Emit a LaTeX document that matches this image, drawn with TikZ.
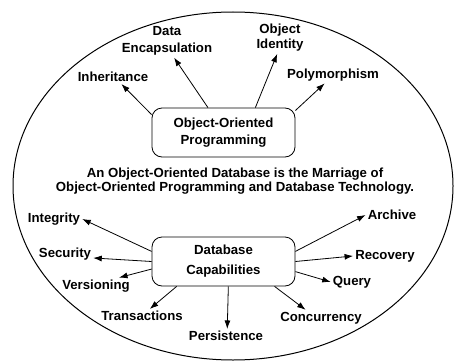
\documentclass[tikz,border=0pt]{standalone}
\usepackage{fontspec}
\setmainfont{Liberation Sans}
\usetikzlibrary{arrows.meta}

\begin{document}
\begin{tikzpicture}[x=1pt,y=-1pt,
  lbl/.style={font=\fontsize{13.2}{15}\selectfont\bfseries, align=center, inner sep=2pt},
  capbox/.style={draw=black, line width=0.8pt, rounded corners=10pt, minimum width=143pt, minimum height=49pt, font=\fontsize{13.2}{15}\selectfont\bfseries, align=center},
  arr/.style={-{Latex[length=8.5pt,width=6pt]}, line width=0.8pt}]
\useasboundingbox (0,0) rectangle (454,361);
\draw[line width=1pt] (233,186) ellipse [x radius=220, y radius=174];

\node[capbox] (oop) at (223.5,132.5) {Object-Oriented\\[2pt]Programming};
\node[lbl] (inh) at (113,77) {Inheritance};
\node[lbl] (denc) at (167,41) {Data\\[2pt]Encapsulation};
\node[lbl] (oid) at (280,38) {Object\\Identity};
\node[lbl] (poly) at (333,75) {Polymorphism};

\node[lbl, font=\fontsize{13.2}{14.5}\selectfont\bfseries] (stmt) at (235,181) {An Object-Oriented Database is the Marriage of\\Object-Oriented Programming and Database Technology.};

\node[capbox] (db) at (223.5,261.5) {Database\\[5pt]Capabilities};
\node[lbl] (integ) at (54,219) {Integrity};
\node[lbl] (secu) at (65,254) {Security};
\node[lbl] (vers) at (96,286) {Versioning};
\node[lbl] (trans) at (142,316) {Transactions};
\node[lbl] (pers) at (226,336) {Persistence};
\node[lbl] (conc) at (321,318) {Concurrency};
\node[lbl] (query) at (352,282) {Query};
\node[lbl] (recov) at (385,256) {Recovery};
\node[lbl] (arch) at (392,215) {Archive};

\draw[arr] (oop.166) -- (inh.-40);
\draw[arr] (oop.122) -- (denc.-67);
\draw[arr] (oop.38) -- (oid.-100);
\draw[arr] (oop.17) -- (poly.-135);

\draw[arr] (db.172) -- (integ.east);
\draw[arr] (db.180) -- (secu.-8);
\draw[arr] (db.186) -- (vers.20);
\draw[arr] (db.208) -- (trans.42);
\draw[arr] (db.281) -- (pers.80);
\draw[arr] (db.334) -- (conc.152);
\draw[arr] (db.352) -- (query.west);
\draw[arr] (db.0) -- (recov.west);
\draw[arr] (db.8) -- (arch.west);
\end{tikzpicture}
\end{document}
